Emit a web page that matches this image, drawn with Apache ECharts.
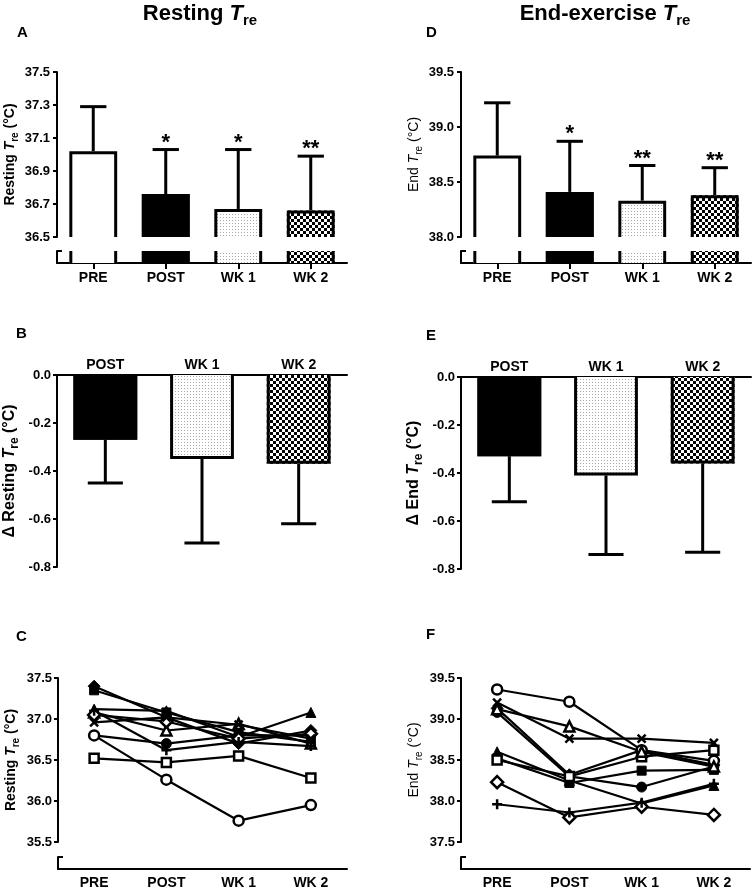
<!DOCTYPE html>
<html>
<head>
<meta charset="utf-8">
<script src="https://cdn.jsdelivr.net/npm/echarts@6/dist/echarts.min.js"></script>
<style>
  html, body { margin: 0; padding: 0; background: #fff; }
  #chart { width: 752px; height: 891px; }
</style>
</head>
<body>
<div id="chart"></div>
<script>
// categories
const cats = ['PRE', 'POST', 'WK 1', 'WK 2'];
const deltaCats = ['POST', 'WK 1', 'WK 2'];

// A: resting Tre, mean + SD
const restMean = [37.02, 36.76, 36.67, 36.66];
const restSD = [0.27, 0.27, 0.36, 0.33];
const restSig = ['', '*', '*', '**'];

// D: end-exercise Tre, mean + SD
const endMean = [38.74, 38.41, 38.33, 38.38];
const endSD = [0.48, 0.46, 0.32, 0.25];
const endSig = ['', '*', '**', '**'];

// B / E: change from PRE
const dRestMean = [-0.27, -0.35, -0.37];
const dRestSD = [0.18, 0.35, 0.25];
const dEndMean = [-0.33, -0.41, -0.36];
const dEndSD = [0.19, 0.33, 0.37];

// C / F: individual subjects (same order in both panels)
const subjectMarkers = ['fcircle', 'frect', 'ftriangle', 'fdiamond', 'ocircle', 'orect', 'otriangle', 'odiamond', 'cross', 'plus'];
const restIndiv = [
  [36.80, 36.70, 36.80, 36.80],
  [37.35, 37.08, 36.84, 36.72],
  [37.12, 37.10, 36.78, 37.08],
  [37.40, 37.02, 36.70, 36.86],
  [36.80, 36.26, 35.76, 35.95],
  [36.52, 36.47, 36.55, 36.28],
  [37.08, 36.86, 36.94, 36.70],
  [37.05, 36.97, 36.76, 36.82],
  [36.96, 37.02, 36.93, 36.76],
  [37.10, 36.62, 36.72, 36.67]
];
const endIndiv = [
  [39.08, 38.30, 38.17, 38.42],
  [38.52, 38.22, 38.37, 38.38],
  [38.60, 38.25, 37.97, 38.19],
  [39.13, 38.32, 38.62, 38.44],
  [39.36, 39.21, 38.62, 38.49],
  [38.50, 38.30, 38.54, 38.62],
  [39.12, 38.91, 38.60, 38.42],
  [38.23, 37.80, 37.93, 37.83],
  [39.20, 38.76, 38.76, 38.71],
  [37.96, 37.86, 37.98, 38.21]
];

const FONT = "'Liberation Sans', Arial, sans-serif";
const BW = 0.66;   // bar width share of band
const CAP = 0.55;  // cap width share of bar

function makePattern(kind) {
  const c = document.createElement('canvas');
  const ctx = c.getContext('2d');
  if (kind === 'check') {
    c.width = 6; c.height = 6;
    ctx.fillStyle = '#fff'; ctx.fillRect(0, 0, 6, 6);
    ctx.fillStyle = '#000'; ctx.fillRect(0, 0, 3, 3); ctx.fillRect(3, 3, 3, 3);
  } else {
    c.width = 3; c.height = 3;
    ctx.fillStyle = '#fff'; ctx.fillRect(0, 0, 3, 3);
    ctx.fillStyle = '#aaa'; ctx.fillRect(1, 1, 1, 1);
  }
  return { image: c, repeat: 'repeat' };
}
const dotFill = makePattern('dots');
const checkFill = makePattern('check');
function fillFor(name) {
  if (name === 'PRE') return '#fff';
  if (name === 'POST') return '#000';
  if (name === 'WK 1') return dotFill;
  return checkFill;
}

const blackLine = { color: '#000', width: 2 };
const tickLabel = { color: '#000', fontFamily: FONT, fontWeight: 'bold', fontSize: 13 };
const catLabel = { color: '#000', fontFamily: FONT, fontWeight: 'bold', fontSize: 14 };

function nameRich(size, weight) {
  return {
    color: '#000',
    rich: {
      a: { fontFamily: FONT, fontSize: size, fontWeight: weight, color: '#000', lineHeight: size + 6 },
      b: { fontFamily: FONT, fontSize: size, fontWeight: weight, fontStyle: 'italic', color: '#000', lineHeight: size + 6 },
      c: { fontFamily: FONT, fontSize: size - 4, fontWeight: weight, color: '#000', verticalAlign: 'bottom', lineHeight: size - 3 }
    }
  };
}

const grids = [], xAxes = [], yAxes = [], series = [];
function addGrid(rect, x, y) {
  const idx = grids.length;
  grids.push(Object.assign({ containLabel: false, outerBoundsMode: 'none' }, rect));
  x.gridIndex = idx; y.gridIndex = idx;
  xAxes.push(x); yAxes.push(y);
  return idx;
}
function valueAxis(min, max, interval, margin, name, nameGap, nameStyle) {
  return {
    type: 'value', min: min, max: max, interval: interval,
    axisLine: { show: true, lineStyle: blackLine },
    axisTick: { show: true, length: 4, lineStyle: blackLine },
    axisLabel: Object.assign({ margin: margin, formatter: v => v.toFixed(1) }, tickLabel),
    splitLine: { show: false },
    name: name, nameLocation: 'middle', nameRotate: 90, nameGap: nameGap,
    nameTextStyle: nameStyle
  };
}
function hiddenCat(data) {
  return { type: 'category', data: data, show: false };
}
function breakX(data, ticks, margin) {
  return {
    type: 'category', data: data,
    axisLine: { show: true, lineStyle: blackLine },
    axisTick: { show: ticks, alignWithLabel: true, length: 6, lineStyle: blackLine },
    axisLabel: Object.assign({ margin: margin }, catLabel),
    splitLine: { show: false }
  };
}
function breakY() {
  return {
    type: 'value', min: 0, max: 1, interval: 1,
    axisLine: { show: true, lineStyle: blackLine },
    axisTick: { show: true, inside: true, length: 5, lineStyle: blackLine },
    axisLabel: { show: false }, splitLine: { show: false }
  };
}

// bars of the upper part (mean + upward SD)
function meanBars(catList, sigList) {
  return function (params, api) {
    const i = api.value(0), m = api.value(1), sd = api.value(2);
    const cs = params.coordSys;
    const band = api.size([1, 0])[0];
    const w = band * BW;
    const p = api.coord([i, m]);
    const cx = p[0], top = p[1];
    const err = api.coord([i, m + sd])[1];
    const base = cs.y + cs.height;
    const x0 = cx - w / 2, x1 = cx + w / 2, c = w * CAP / 2;
    const children = [
      { type: 'rect', shape: { x: x0, y: top, width: w, height: base - top }, style: { fill: fillFor(catList[i]) } },
      { type: 'line', shape: { x1: cx, y1: top, x2: cx, y2: err }, style: { stroke: '#000', lineWidth: 3 } },
      { type: 'line', shape: { x1: cx - c, y1: err, x2: cx + c, y2: err }, style: { stroke: '#000', lineWidth: 3 } },
      { type: 'polyline', shape: { points: [[x0 + 1.5, base], [x0 + 1.5, top + 1.5], [x1 - 1.5, top + 1.5], [x1 - 1.5, base]] },
        style: { stroke: '#000', lineWidth: 3, fill: null } }
    ];
    if (sigList[i]) {
      children.push({ type: 'text', style: { text: sigList[i], x: cx, y: err + 4, align: 'center', verticalAlign: 'bottom',
        font: 'bold 22px ' + FONT, fill: '#000' } });
    }
    return { type: 'group', children: children };
  };
}
// bars below the axis break
function breakBars(catList) {
  return function (params, api) {
    const i = api.value(0);
    const cs = params.coordSys;
    const w = api.size([1, 0])[0] * BW;
    const cx = api.coord([i, 0])[0];
    const x0 = cx - w / 2, x1 = cx + w / 2, y0 = cs.y, y1 = cs.y + cs.height;
    return { type: 'group', children: [
      { type: 'rect', shape: { x: x0, y: y0, width: w, height: y1 - y0 }, style: { fill: fillFor(catList[i]) } },
      { type: 'line', shape: { x1: x0 + 1.5, y1: y0, x2: x0 + 1.5, y2: y1 }, style: { stroke: '#000', lineWidth: 3 } },
      { type: 'line', shape: { x1: x1 - 1.5, y1: y0, x2: x1 - 1.5, y2: y1 }, style: { stroke: '#000', lineWidth: 3 } }
    ] };
  };
}
// change bars (hanging from 0, SD downward)
function deltaBars(catList) {
  return function (params, api) {
    const i = api.value(0), m = api.value(1), sd = api.value(2);
    const w = api.size([1, 0])[0] * BW;
    const base = api.coord([i, 0])[1];
    const p = api.coord([i, m]);
    const cx = p[0], bot = p[1];
    const err = api.coord([i, m - sd])[1];
    const x0 = cx - w / 2, x1 = cx + w / 2, c = w * CAP / 2;
    return { type: 'group', children: [
      { type: 'rect', shape: { x: x0, y: base, width: w, height: bot - base }, style: { fill: fillFor(catList[i]) } },
      { type: 'line', shape: { x1: cx, y1: bot, x2: cx, y2: err }, style: { stroke: '#000', lineWidth: 3 } },
      { type: 'line', shape: { x1: cx - c, y1: err, x2: cx + c, y2: err }, style: { stroke: '#000', lineWidth: 3 } },
      { type: 'polyline', shape: { points: [[x0 + 1.5, base], [x0 + 1.5, bot - 1.5], [x1 - 1.5, bot - 1.5], [x1 - 1.5, base]] },
        style: { stroke: '#000', lineWidth: 3, fill: null } }
    ] };
  };
}

function meanPanel(left, means, sds, sigs, min, max, interval, name, nameGap, nameStyle) {
  const g = addGrid({ left: left, top: 72, width: 290, height: 165 }, hiddenCat(cats),
    valueAxis(min, max, interval, 7, name, nameGap, nameStyle));
  series.push({ type: 'custom', xAxisIndex: g, yAxisIndex: g, renderItem: meanBars(cats, sigs),
    data: cats.map((c, i) => [i, means[i], sds[i]]) });
  const b = addGrid({ left: left, top: 251, width: 290, height: 12 }, breakX(cats, true, 8), breakY());
  series.push({ type: 'custom', xAxisIndex: b, yAxisIndex: b, renderItem: breakBars(cats),
    data: cats.map((c, i) => [i, 0]) });
}
function deltaPanel(left, top, means, sds, name, nameGap) {
  const x = {
    type: 'category', data: deltaCats, position: 'top',
    axisLine: { show: true, lineStyle: blackLine }, axisTick: { show: false },
    axisLabel: Object.assign({ margin: 3 }, catLabel)
  };
  const g = addGrid({ left: left, top: top, width: 290, height: 192 }, x,
    valueAxis(-0.8, 0, 0.2, 6, name, nameGap, nameRich(16, 'bold')));
  series.push({ type: 'custom', xAxisIndex: g, yAxisIndex: g, renderItem: deltaBars(deltaCats),
    data: deltaCats.map((c, i) => [i, means[i], sds[i]]) });
}
const crossPath = 'path://M0,0L10,10M0,10L10,0';
const plusPath = 'path://M5,0L5,10M0,5L10,5';
function markerStyle(kind) {
  const open = kind.charAt(0) === 'o';
  let symbol = kind.slice(1), size = 10;
  if (kind === 'cross') { symbol = crossPath; size = 8; }
  if (kind === 'plus') { symbol = plusPath; size = 10; }
  if (symbol === 'rect') size = 9;
  if (symbol === 'diamond') size = 12;
  return {
    symbol: symbol, symbolSize: size,
    itemStyle: { color: open ? '#fff' : '#000', borderColor: '#000', borderWidth: (open || kind === 'cross' || kind === 'plus') ? 2.5 : 1 }
  };
}
function indivPanel(left, rows, min, max, name, nameGap, nameStyle) {
  const g = addGrid({ left: left, top: 678, width: 289, height: 164 }, hiddenCat(cats),
    valueAxis(min, max, 0.5, 6, name, nameGap, nameStyle));
  rows.forEach((row, k) => {
    series.push(Object.assign({
      type: 'line', xAxisIndex: g, yAxisIndex: g, data: row,
      lineStyle: { color: '#000', width: 2.2 }, showAllSymbol: true, z: 3
    }, markerStyle(subjectMarkers[k])));
  });
  addGrid({ left: left, top: 857, width: 289, height: 12 }, breakX(cats, false, 7), breakY());
}

meanPanel(57, restMean, restSD, restSig, 36.5, 37.5, 0.2,
  '{a|Resting }{b|T}{c|re}{a| (°C)}', 37, nameRich(14, 'bold'));
meanPanel(461, endMean, endSD, endSig, 38.0, 39.5, 0.5,
  '{a|End }{b|T}{c|re}{a| (°C)}', 37, nameRich(14, 'normal'));
deltaPanel(57, 375, dRestMean, dRestSD, '{a|Δ Resting }{b|T}{c|re}{a| (°C)}', 36);
deltaPanel(461, 377, dEndMean, dEndSD, '{a|Δ End }{b|T}{c|re}{a| (°C)}', 36);
indivPanel(58, restIndiv, 35.5, 37.5, '{a|Resting }{b|T}{c|re}{a| (°C)}', 37, nameRich(14, 'bold'));
indivPanel(461, endIndiv, 37.5, 39.5, '{a|End }{b|T}{c|re}{a| (°C)}', 37, nameRich(14, 'normal'));

function titleText(x, y, main) {
  return {
    type: 'text', x: x, y: y,
    style: {
      text: '{a|' + main + '}{b|T}{c|re}', align: 'center', verticalAlign: 'middle',
      rich: {
        a: { fontFamily: FONT, fontSize: 22, fontWeight: 'bold', fill: '#000', lineHeight: 28 },
        b: { fontFamily: FONT, fontSize: 22, fontWeight: 'bold', fontStyle: 'italic', fill: '#000', lineHeight: 28 },
        c: { fontFamily: FONT, fontSize: 15, fontWeight: 'bold', fill: '#000', verticalAlign: 'bottom', lineHeight: 17 }
      }
    }
  };
}
function letter(x, y, t) {
  return { type: 'text', x: x, y: y, style: { text: t, font: 'bold 15px ' + FONT, fill: '#000', verticalAlign: 'middle' } };
}

const chart = echarts.init(document.getElementById('chart'));
chart.setOption({
  backgroundColor: '#fff',
  animation: false,
  grid: grids,
  xAxis: xAxes,
  yAxis: yAxes,
  series: series,
  graphic: [
    titleText(200, 14, 'Resting '),
    titleText(605, 14, 'End-exercise '),
    letter(17, 33, 'A'), letter(426, 33, 'D'),
    letter(16, 334, 'B'), letter(426, 336, 'E'),
    letter(16, 637, 'C'), letter(426, 635, 'F')
  ]
});
</script>
</body>
</html>
